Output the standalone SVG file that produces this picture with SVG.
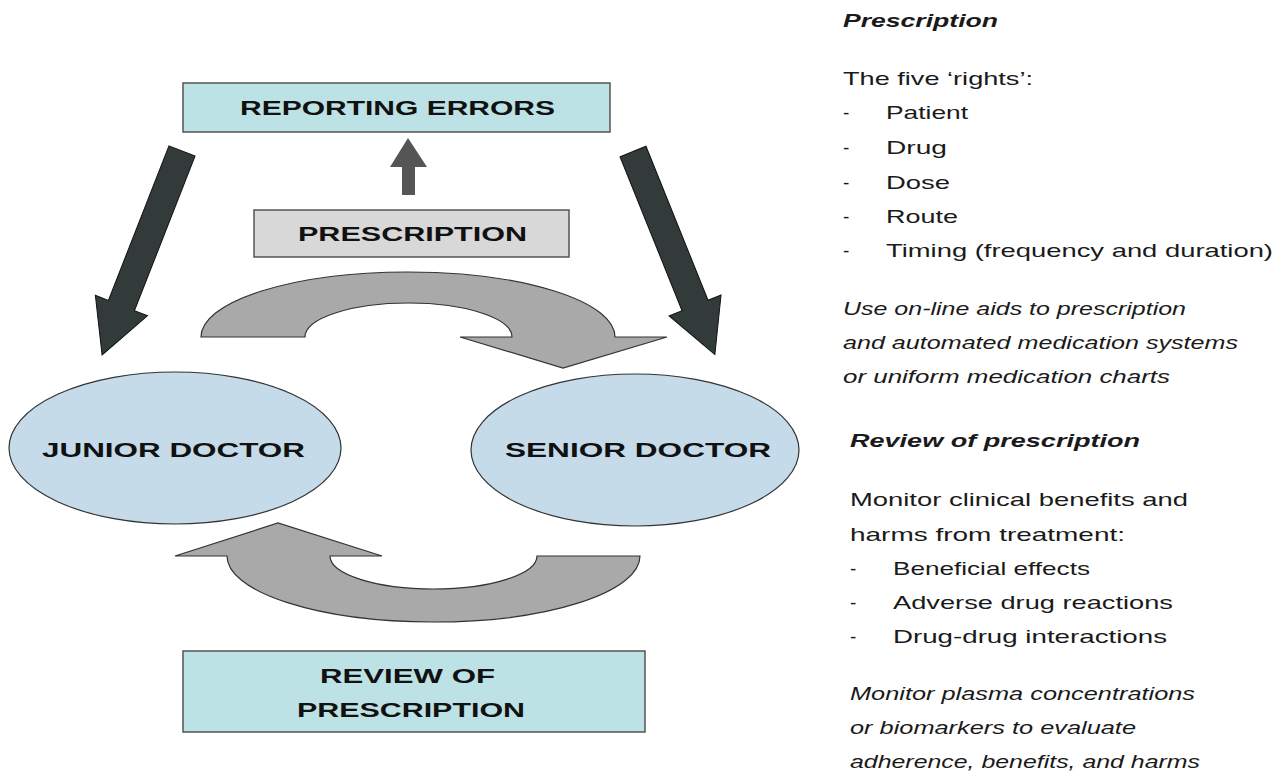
<svg xmlns="http://www.w3.org/2000/svg" width="1286" height="774" viewBox="0 0 1286 774">
<style>
.lbl{font-family:"Liberation Sans",Arial,sans-serif;font-weight:bold;font-size:21px;fill:#111;lengthAdjust:spacingAndGlyphs}
.box{stroke:#555;stroke-width:1.5}
.cyan{fill:#bde2e5}
.grey{fill:#d8d8d8}
.ell{fill:#c5dbe9;stroke:#333;stroke-width:1.2}
.garrow{fill:#a9a9a9;stroke:#333;stroke-width:1.2}
.darrow{fill:#323a3a;stroke:#111;stroke-width:1}
.t{font-family:"Liberation Sans",Arial,sans-serif;font-size:19px;fill:#1a1a1a}
.ti{font-style:italic}
.tb{font-weight:bold;font-style:italic}
</style>
<rect width="1286" height="774" fill="#fff"/>

<g id="connectors">
  <path class="darrow" transform="translate(182,151) rotate(111.4)" d="M0,-14 L166,-14 L166,-28 L219,0 L166,28 L166,14 L0,14 Z"/>
  <path class="darrow" transform="translate(633,151.5) rotate(68.05)" d="M0,-14 L166,-14 L166,-28 L219,0 L166,28 L166,14 L0,14 Z"/>
  <path fill="#555" d="M402,195 L402,167 L390,167 L408,138 L427,167 L415,167 L415,195 Z"/>
  <path class="garrow" d="M201,337 A207,65 0 0 1 615,337 L667,337 L563,368 L460,337 L512,337 A103.5,34 0 0 0 305,337 Z"/>
  <path class="garrow" d="M640,556 A206.5,66 0 0 1 227,556 L175,556 L278,523 L382,556 L330,556 A103.5,33 0 0 0 537,556 Z"/>
</g>

<g id="reporting-errors">
  <rect class="box cyan" x="183" y="83" width="427" height="49"/>
  <text class="lbl" x="240" y="115" textLength="315" lengthAdjust="spacingAndGlyphs">REPORTING ERRORS</text>
</g>

<g id="prescription">
  <rect class="box grey" x="254" y="210" width="315" height="47"/>
  <text class="lbl" x="298" y="241" textLength="229" lengthAdjust="spacingAndGlyphs">PRESCRIPTION</text>
</g>

<g id="junior-doctor">
  <ellipse class="ell" cx="175" cy="448" rx="166" ry="76"/>
  <text class="lbl" x="42" y="457" textLength="263" lengthAdjust="spacingAndGlyphs">JUNIOR DOCTOR</text>
</g>

<g id="senior-doctor">
  <ellipse class="ell" cx="635" cy="450" rx="164" ry="76"/>
  <text class="lbl" x="505" y="457" textLength="266" lengthAdjust="spacingAndGlyphs">SENIOR DOCTOR</text>
</g>

<g id="review-of-prescription">
  <rect class="box cyan" x="183" y="651" width="462" height="81"/>
  <text class="lbl" x="320" y="683" textLength="175" lengthAdjust="spacingAndGlyphs">REVIEW OF</text>
  <text class="lbl" x="297" y="717" textLength="228" lengthAdjust="spacingAndGlyphs">PRESCRIPTION</text>
</g>

<g id="notes">
  <text class="t tb" x="843" y="27" textLength="155" lengthAdjust="spacingAndGlyphs">Prescription</text>
  <text class="t" x="843" y="85" textLength="190" lengthAdjust="spacingAndGlyphs">The five ‘rights’:</text>
  <text class="t" x="843" y="119">-</text>
  <text class="t" x="886" y="119" textLength="82" lengthAdjust="spacingAndGlyphs">Patient</text>
  <text class="t" x="843" y="154">-</text>
  <text class="t" x="886" y="154" textLength="61" lengthAdjust="spacingAndGlyphs">Drug</text>
  <text class="t" x="843" y="189">-</text>
  <text class="t" x="886" y="189" textLength="64" lengthAdjust="spacingAndGlyphs">Dose</text>
  <text class="t" x="843" y="223">-</text>
  <text class="t" x="886" y="223" textLength="72" lengthAdjust="spacingAndGlyphs">Route</text>
  <text class="t" x="843" y="257">-</text>
  <text class="t" x="886" y="257" textLength="387" lengthAdjust="spacingAndGlyphs">Timing (frequency and duration)</text>
  <text class="t ti" x="843" y="315" textLength="343" lengthAdjust="spacingAndGlyphs">Use on-line aids to prescription</text>
  <text class="t ti" x="843" y="349" textLength="395" lengthAdjust="spacingAndGlyphs">and automated medication systems</text>
  <text class="t ti" x="843" y="383" textLength="327" lengthAdjust="spacingAndGlyphs">or uniform medication charts</text>

  <text class="t tb" x="850" y="447" textLength="290" lengthAdjust="spacingAndGlyphs">Review of prescription</text>
  <text class="t" x="850" y="506" textLength="338" lengthAdjust="spacingAndGlyphs">Monitor clinical benefits and</text>
  <text class="t" x="850" y="541" textLength="275" lengthAdjust="spacingAndGlyphs">harms from treatment:</text>
  <text class="t" x="850" y="575">-</text>
  <text class="t" x="893" y="575" textLength="197" lengthAdjust="spacingAndGlyphs">Beneficial effects</text>
  <text class="t" x="850" y="609">-</text>
  <text class="t" x="893" y="609" textLength="280" lengthAdjust="spacingAndGlyphs">Adverse drug reactions</text>
  <text class="t" x="850" y="643">-</text>
  <text class="t" x="893" y="643" textLength="274" lengthAdjust="spacingAndGlyphs">Drug-drug interactions</text>
  <text class="t ti" x="850" y="700" textLength="345" lengthAdjust="spacingAndGlyphs">Monitor plasma concentrations</text>
  <text class="t ti" x="850" y="734" textLength="286" lengthAdjust="spacingAndGlyphs">or biomarkers to evaluate</text>
  <text class="t ti" x="850" y="768" textLength="350" lengthAdjust="spacingAndGlyphs">adherence, benefits, and harms</text>
</g>
</svg>
